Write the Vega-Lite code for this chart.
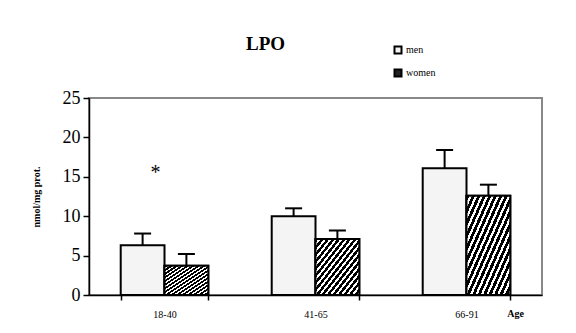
{
  "$schema": "https://vega.github.io/schema/vega-lite/v6.json",
  "width": 453,
  "height": 197,
  "autosize": {"type": "none"},
  "padding": {"left": 89, "top": 98, "right": 34, "bottom": 38},
  "background": "white",
  "config": {
    "font": "Liberation Serif",
    "view": {"stroke": "#888888", "strokeWidth": 2},
    "axisY": {
      "labelOverlap": false,
      "labelFlush": false,
      "labelFontSize": 18,
      "labelColor": "black",
      "tickColor": "black",
      "tickSize": 6,
      "tickWidth": 1.5,
      "domainColor": "black",
      "domainWidth": 1.5,
      "labelPadding": 3,
      "grid": false,
      "titleFontSize": 10,
      "titleFontWeight": "bold",
      "titleColor": "black",
      "titlePadding": 21
    }
  },
  "title": {
    "text": "LPO",
    "fontSize": 19,
    "fontWeight": "bold",
    "font": "Liberation Serif",
    "color": "black",
    "anchor": "middle",
    "frame": "group",
    "dx": -50,
    "offset": -9
  },
  "data": {
    "values": [
      {"age": "18-40", "sex": "men", "mean": 6.3, "upper": 7.8},
      {"age": "18-40", "sex": "women", "mean": 3.7, "upper": 5.2},
      {"age": "41-65", "sex": "men", "mean": 10.0, "upper": 11.0},
      {"age": "41-65", "sex": "women", "mean": 7.1, "upper": 8.2},
      {"age": "66-91", "sex": "men", "mean": 16.1, "upper": 18.4},
      {"age": "66-91", "sex": "women", "mean": 12.6, "upper": 14.0}
    ]
  },
  "encoding": {
    "x": {
      "field": "age",
      "type": "nominal",
      "scale": {"paddingInner": 0.42, "paddingOuter": 0.21},
      "axis": {
        "title": "Age",
        "titleFontWeight": "bold",
        "titleFontSize": 10,
        "titleColor": "black",
        "titleX": 426,
        "titleY": 13,
        "labelAngle": 0,
        "labelFontSize": 10,
        "labelColor": "black",
        "tickBand": "extent",
        "tickSize": 5,
        "tickColor": "black",
        "tickWidth": 1.5,
        "domainColor": "black",
        "domainWidth": 1.5,
        "labelPadding": 9,
        "grid": false
      }
    }
  },
  "layer": [
    {
      "mark": {"type": "bar", "stroke": "black", "strokeWidth": 2, "opacity": 1},
      "encoding": {
        "xOffset": {"field": "sex", "type": "nominal", "scale": {"paddingInner": 0}},
        "y": {
          "field": "mean",
          "type": "quantitative",
          "stack": null,
          "scale": {"domain": [0, 25], "nice": false},
          "axis": {"title": "nmol/mg prot.", "values": [0, 5, 10, 15, 20, 25], "tickCount": 6}
        },
        "fill": {
          "field": "sex",
          "type": "nominal",
          "scale": {"range": ["#f4f4f4", "#222222"]},
          "legend": {
            "title": null,
            "orient": "none",
            "legendX": 304,
            "legendY": -53,
            "direction": "vertical",
            "symbolType": "square",
            "symbolSize": 49,
            "symbolStrokeColor": "black",
            "symbolStrokeWidth": 2,
            "symbolOpacity": 1,
            "labelFontSize": 10,
            "labelFont": "Liberation Serif",
            "labelColor": "black",
            "labelOffset": 3,
            "rowPadding": 7
          }
        }
      }
    },
    {
      "transform": [{"filter": "datum.sex === 'women'"}],
      "mark": {
        "type": "bar",
        "stroke": "black",
        "strokeWidth": 2,
        "fill": {
          "gradient": "linear",
          "x1": 0, "y1": 0, "x2": 1, "y2": 1,
          "stops": [
            {"offset": 0, "color": "black"}, {"offset": 0.035, "color": "black"}, {"offset": 0.035, "color": "white"}, {"offset": 0.0625, "color": "white"},
            {"offset": 0.0625, "color": "black"}, {"offset": 0.0975, "color": "black"}, {"offset": 0.0975, "color": "white"}, {"offset": 0.125, "color": "white"},
            {"offset": 0.125, "color": "black"}, {"offset": 0.16, "color": "black"}, {"offset": 0.16, "color": "white"}, {"offset": 0.1875, "color": "white"},
            {"offset": 0.1875, "color": "black"}, {"offset": 0.2225, "color": "black"}, {"offset": 0.2225, "color": "white"}, {"offset": 0.25, "color": "white"},
            {"offset": 0.25, "color": "black"}, {"offset": 0.285, "color": "black"}, {"offset": 0.285, "color": "white"}, {"offset": 0.3125, "color": "white"},
            {"offset": 0.3125, "color": "black"}, {"offset": 0.3475, "color": "black"}, {"offset": 0.3475, "color": "white"}, {"offset": 0.375, "color": "white"},
            {"offset": 0.375, "color": "black"}, {"offset": 0.41, "color": "black"}, {"offset": 0.41, "color": "white"}, {"offset": 0.4375, "color": "white"},
            {"offset": 0.4375, "color": "black"}, {"offset": 0.4725, "color": "black"}, {"offset": 0.4725, "color": "white"}, {"offset": 0.5, "color": "white"},
            {"offset": 0.5, "color": "black"}, {"offset": 0.535, "color": "black"}, {"offset": 0.535, "color": "white"}, {"offset": 0.5625, "color": "white"},
            {"offset": 0.5625, "color": "black"}, {"offset": 0.5975, "color": "black"}, {"offset": 0.5975, "color": "white"}, {"offset": 0.625, "color": "white"},
            {"offset": 0.625, "color": "black"}, {"offset": 0.66, "color": "black"}, {"offset": 0.66, "color": "white"}, {"offset": 0.6875, "color": "white"},
            {"offset": 0.6875, "color": "black"}, {"offset": 0.7225, "color": "black"}, {"offset": 0.7225, "color": "white"}, {"offset": 0.75, "color": "white"},
            {"offset": 0.75, "color": "black"}, {"offset": 0.785, "color": "black"}, {"offset": 0.785, "color": "white"}, {"offset": 0.8125, "color": "white"},
            {"offset": 0.8125, "color": "black"}, {"offset": 0.8475, "color": "black"}, {"offset": 0.8475, "color": "white"}, {"offset": 0.875, "color": "white"},
            {"offset": 0.875, "color": "black"}, {"offset": 0.91, "color": "black"}, {"offset": 0.91, "color": "white"}, {"offset": 0.9375, "color": "white"},
            {"offset": 0.9375, "color": "black"}, {"offset": 0.9725, "color": "black"}, {"offset": 0.9725, "color": "white"}, {"offset": 1, "color": "white"}
          ]
        }
      },
      "encoding": {
        "xOffset": {"field": "sex", "type": "nominal"},
        "y": {"field": "mean", "type": "quantitative", "stack": null, "axis": {"title": "nmol/mg prot.", "values": [0, 5, 10, 15, 20, 25], "tickCount": 6}}
      }
    },
    {
      "mark": {"type": "rule", "color": "black", "strokeWidth": 2},
      "encoding": {
        "xOffset": {"field": "sex", "type": "nominal"},
        "y": {"field": "mean", "type": "quantitative", "axis": {"title": "nmol/mg prot.", "values": [0, 5, 10, 15, 20, 25], "tickCount": 6}},
        "y2": {"field": "upper"}
      }
    },
    {
      "mark": {"type": "tick", "color": "black", "thickness": 2, "size": 17, "opacity": 1},
      "encoding": {
        "xOffset": {"field": "sex", "type": "nominal"},
        "y": {"field": "upper", "type": "quantitative", "axis": {"title": "nmol/mg prot.", "values": [0, 5, 10, 15, 20, 25], "tickCount": 6}}
      }
    },
    {
      "data": {"values": [{"age": "18-40", "y": 15.9, "label": "*"}]},
      "mark": {"type": "text", "fontSize": 20, "font": "Liberation Serif", "color": "black", "dx": -9, "dy": 3, "baseline": "middle"},
      "encoding": {
        "y": {"field": "y", "type": "quantitative", "axis": {"title": "nmol/mg prot.", "values": [0, 5, 10, 15, 20, 25], "tickCount": 6}},
        "text": {"field": "label"}
      }
    }
  ]
}
